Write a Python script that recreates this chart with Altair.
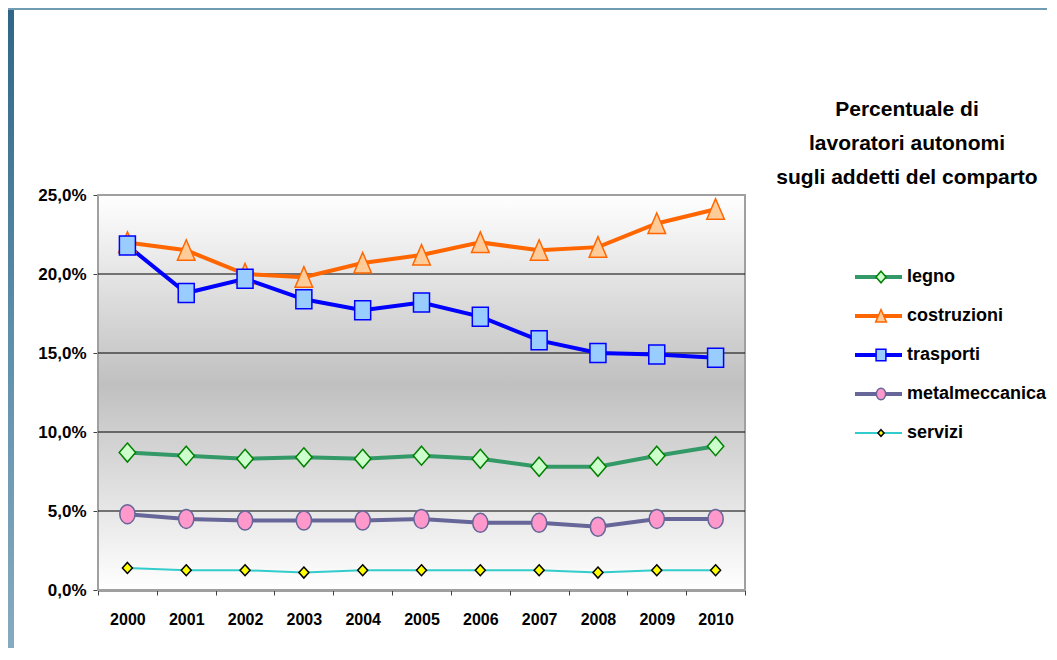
import altair as alt
import pandas as pd

# ---------------- data ----------------
years = [str(y) for y in range(2000, 2011)]
series_names = ["legno", "costruzioni", "trasporti", "metalmeccanica", "servizi"]
legno = [8.7, 8.5, 8.3, 8.4, 8.3, 8.5, 8.3, 7.8, 7.8, 8.5, 9.1]
costruzioni = [22.0, 21.5, 20.0, 19.8, 20.7, 21.2, 22.0, 21.5, 21.7, 23.2, 24.1]
trasporti = [21.8, 18.8, 19.7, 18.4, 17.7, 18.2, 17.3, 15.8, 15.0, 14.9, 14.7]
metalmeccanica = [4.8, 4.5, 4.4, 4.4, 4.4, 4.5, 4.25, 4.25, 4.0, 4.5, 4.5]
servizi = [1.4, 1.25, 1.25, 1.1, 1.25, 1.25, 1.25, 1.25, 1.1, 1.25, 1.25]
y_ticks = [0, 5, 10, 15, 20, 25]
grid_values = [5, 10, 15, 20]
title_lines = ["Percentuale di", "lavoratori autonomi", "sugli addetti del comparto"]

# ---------------- styles ----------------
line_colors = ["#339966", "#ff6600", "#0000ff", "#666699", "#33cccc"]
line_widths = [4, 4, 4, 4, 2]
marker_fills = ["#ccffcc", "#ffcc99", "#99ccff", "#ff99cc", "#ffff00"]
marker_strokes = ["#008000", "#ff6600", "#0000ff", "#666699", "#000000"]
marker_paths = [
    "M0,-0.95L0.82,0L0,0.95L-0.82,0Z",
    "M0,-1.05L0.88,1.0L-0.88,1.0Z",
    "M-0.8,-0.95H0.8V0.95H-0.8Z",
    "M-0.76,0A0.76,0.95,0,1,0,0.76,0A0.76,0.95,0,1,0,-0.76,0Z",
    "M0,-0.55L0.5,0L0,0.55L-0.5,0Z",
]
marker_keys = [n + "_m" for n in series_names]

W, H = 647, 395
PAD = {"left": 90, "top": 187, "right": 302, "bottom": 58}
FONT = "Liberation Sans"

values = {
    "legno": legno,
    "costruzioni": costruzioni,
    "trasporti": trasporti,
    "metalmeccanica": metalmeccanica,
    "servizi": servizi,
}
rows = []
for name, key in zip(series_names, marker_keys):
    for yr, v in zip(years, values[name]):
        rows.append({"year": yr, "series": name, "serie": key, "value": v})
df = pd.DataFrame(rows)

y_scale = alt.Scale(domain=[0, 25], nice=False, zero=True)
y_axis = alt.Axis(
    title=None, values=y_ticks, grid=False,
    labelExpr="replace(format(datum.value, '.1f'), '.', ',') + '%'",
    domainColor="#404040", domainWidth=2, tickColor="#404040",
    tickSize=5, labelFont=FONT, labelFontSize=17,
    labelFontWeight="bold", labelColor="black", labelPadding=7,
)
x_enc = alt.X(
    "year:O",
    sort=years,
    scale=alt.Scale(type="band", paddingInner=0, paddingOuter=0),
    axis=alt.Axis(
        title=None, labelAngle=0, tickBand="extent", domainColor="#404040",
        domainWidth=2, tickColor="#404040", tickSize=5, labelFont=FONT,
        labelFontSize=16, labelFontWeight="bold", labelColor="black",
        labelPadding=16,
    ),
)

# decorative slide frame (left / top strip)
frame_grad = alt.Gradient(
    gradient="linear", x1=0, y1=0, x2=0, y2=1,
    stops=[alt.GradientStop(color="#2f6687", offset=0),
           alt.GradientStop(color="#5d8eaa", offset=0.5),
           alt.GradientStop(color="#86abc0", offset=1)],
)
frame_df = pd.DataFrame({"k": [0]})
frame_left = alt.Chart(frame_df).mark_rect(fill=frame_grad).encode(
    x=alt.value(-PAD["left"]), x2=alt.value(-PAD["left"] + 6),
    y=alt.value(-PAD["top"]), y2=alt.value(H + PAD["bottom"]),
)
frame_top = alt.Chart(frame_df).mark_rect(color="#6f9bb3").encode(
    x=alt.value(-PAD["left"]), x2=alt.value(W + PAD["right"]),
    y=alt.value(-PAD["top"]), y2=alt.value(-PAD["top"] + 2),
)

# plot background gradient
bg_grad = alt.Gradient(
    gradient="linear", x1=0, y1=0, x2=0, y2=1,
    stops=[alt.GradientStop(color="#ffffff", offset=0),
           alt.GradientStop(color="#c0c0c0", offset=0.48),
           alt.GradientStop(color="#ffffff", offset=1)],
)
bg = alt.Chart(pd.DataFrame({"top": [y_ticks[-1]], "bot": [y_ticks[0]]})).mark_rect(
    fill=bg_grad, stroke="#a0a0a0", strokeWidth=2
).encode(
    x=alt.value(0), x2=alt.value(W),
    y=alt.Y("top:Q", scale=y_scale, axis=y_axis), y2="bot:Q",
)

grid = alt.Chart(pd.DataFrame({"g": grid_values})).mark_rule(
    color="black", strokeWidth=1.2
).encode(y=alt.Y("g:Q", scale=y_scale, axis=y_axis))

leg_common = dict(
    orient="none", title=None, padding=0, clipHeight=20, rowPadding=19,
    labelFont=FONT, labelFontSize=18, labelFontWeight="bold",
    labelColor="black", labelLimit=400,
)
leg_lines = alt.Legend(
    legendX=755, legendY=72, symbolType="M-1,0H1", symbolSize=2209,
    labelOffset=3, **leg_common,
)
leg_marks = alt.Legend(
    legendX=774, legendY=72, symbolSize=150, symbolStrokeWidth=1.5,
    symbolOpacity=1, labelExpr="''", **leg_common,
)

lines = alt.Chart(df).mark_line().encode(
    x=x_enc,
    y=alt.Y("value:Q", scale=y_scale, axis=y_axis),
    color=alt.Color("series:N", scale=alt.Scale(domain=series_names, range=line_colors),
                    legend=leg_lines),
    strokeWidth=alt.StrokeWidth("series:N",
                                scale=alt.Scale(type="ordinal", domain=series_names, range=line_widths),
                                legend=leg_lines),
)

points = alt.Chart(df).mark_point(size=400, opacity=1, fillOpacity=1, strokeWidth=1.5).encode(
    x=x_enc,
    y=alt.Y("value:Q", scale=y_scale, axis=y_axis),
    shape=alt.Shape("serie:N", scale=alt.Scale(domain=marker_keys, range=marker_paths),
                    legend=leg_marks),
    fill=alt.Fill("serie:N", scale=alt.Scale(domain=marker_keys, range=marker_fills),
                  legend=leg_marks),
    stroke=alt.Stroke("serie:N", scale=alt.Scale(domain=marker_keys, range=marker_strokes),
                      legend=leg_marks),
)

chart = alt.layer(frame_left, frame_top, bg, grid, lines, points).properties(
    width=W, height=H, padding=PAD,
    autosize=alt.AutoSizeParams(type="none"),
    title=alt.TitleParams(
        text=title_lines, anchor="start", frame="group", align="center",
        dx=809, dy=180, offset=0, font=FONT, fontSize=21, fontWeight="bold",
        color="black", lineHeight=34,
    ),
).configure_view(stroke=None).configure(font=FONT, background="white")

chart.save("out.html", embed_options={"renderer": "svg", "actions": False})
